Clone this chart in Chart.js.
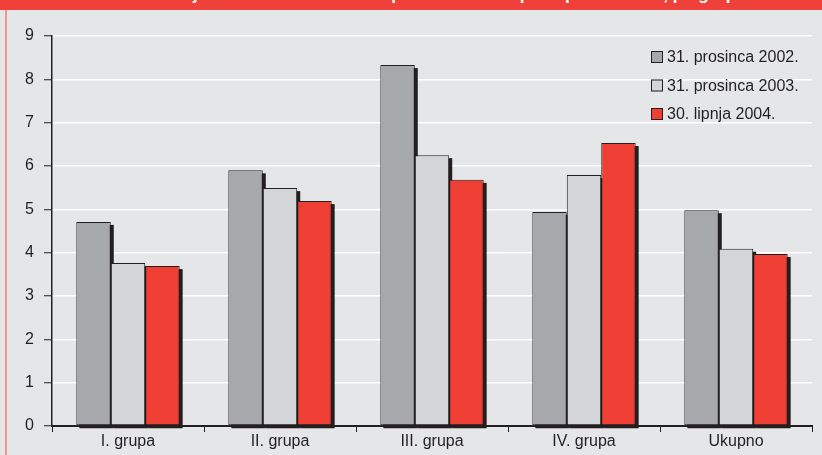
<!DOCTYPE html>
<html>
<head>
<meta charset="utf-8">
<script src="https://cdn.jsdelivr.net/npm/chart.js@4.4.1/dist/chart.umd.min.js"></script>
<style>
  html,body{margin:0;padding:0;background:#e5e6e8;}
  #wrap{position:relative;width:822px;height:455px;overflow:hidden;}
  #banner{position:absolute;left:0;top:0;width:822px;height:10px;background:#f0403a;overflow:hidden;}
  #banner span{position:absolute;left:140px;top:-15px;font:bold 17px "Liberation Sans",Arial,sans-serif;color:#fff;white-space:nowrap;}
  #edge{position:absolute;left:5px;top:10px;width:2px;height:445px;background:#f0968e;}
  canvas{position:absolute;left:0;top:0;}
</style>
</head>
<body>
<div id="wrap">
  <div id="banner"><span>Udio djelomično nadoknadivih plasmana u ukupnim plasmanima, po grupama banaka</span></div>
  <div id="edge"></div>
  <canvas id="myChart" width="822" height="455"></canvas>
</div>
<script>
const labels = ['I. grupa', 'II. grupa', 'III. grupa', 'IV. grupa', 'Ukupno'];
const seriesNames = ['31. prosinca 2002.', '31. prosinca 2003.', '30. lipnja 2004.'];
const dec2002 = [4.71, 5.90, 8.33, 4.94, 4.98];
const dec2003 = [3.76, 5.49, 6.25, 5.79, 4.09];
const jun2004 = [3.69, 5.19, 5.68, 6.53, 3.97];
const yTicks = [0, 1, 2, 3, 4, 5, 6, 7, 8, 9];

const colors = ['#a7a8ab', '#d4d5d7', '#ef3e34'];
const ink = '#231f20';
const fontFam = '"Liberation Sans", Arial, sans-serif';

const data = {
    labels: labels,
    datasets: [dec2002, dec2003, jun2004].map((vals, i) => {
        return {
            label: seriesNames[i],
            data: vals,
            backgroundColor: colors[i],
            borderColor: ink,
            borderWidth: 1,
            borderSkipped: false
        };
    })
};

// black drop shadow behind every bar
const shadowPlugin = {
    id: 'shadow',
    beforeDatasetsDraw: (chart) => {
        const ctx = chart.ctx;
        ctx.save();
        ctx.fillStyle = ink;
        chart.data.datasets.forEach((ds, i) => {
            chart.getDatasetMeta(i).data.forEach((el) => {
                ctx.fillRect(el.x - el.width / 2 + 3, el.y + 3, el.width, el.base - el.y);
            });
        });
        ctx.restore();
    }
};

// legend inside plot area, top right
const legendPlugin = {
    id: 'boxLegend',
    afterDraw: (chart) => {
        const ctx = chart.ctx;
        ctx.save();
        ctx.font = '16px ' + fontFam;
        ctx.textBaseline = 'middle';
        chart.data.datasets.forEach((ds, i) => {
            let y = 51 + i * 28.5;
            ctx.fillStyle = ds.backgroundColor;
            ctx.fillRect(651, y, 12, 12);
            ctx.strokeStyle = ink;
            ctx.lineWidth = 1;
            ctx.strokeRect(651.5, y + 0.5, 11, 11);
            ctx.fillStyle = ink;
            ctx.fillText(ds.label, 667, y + 7);
        });
        ctx.restore();
    }
};

const config = {
    type: 'bar',
    data: data,
    plugins: [shadowPlugin, legendPlugin],
    options: {
        responsive: false,
        animation: false,
        layout: { padding: { top: 36, right: 10, left: 0, bottom: 0 } },
        datasets: { bar: { categoryPercentage: 0.68, barPercentage: 1.0 } },
        plugins: { legend: { display: false }, tooltip: { enabled: false } },
        scales: {
            x: {
                afterFit: (s) => { s.height = 29; },
                grid: { offset: true, drawOnChartArea: false, tickLength: 6, tickColor: ink, tickWidth: 1 },
                border: { color: ink, width: 2 },
                ticks: { color: ink, padding: 0, font: { family: fontFam, size: 16 } }
            },
            y: {
                min: 0,
                max: 9,
                afterFit: (s) => { s.width = 52; },
                afterBuildTicks: (s) => { s.ticks = yTicks.map((v) => ({ value: v })); },
                grid: { color: '#ffffff', lineWidth: 1.5, tickColor: ink, tickLength: 8, tickWidth: 1 },
                border: { color: ink, width: 1.5 },
                ticks: { color: ink, padding: 10, font: { family: fontFam, size: 16 } }
            }
        }
    }
};

var myChart = new Chart(document.getElementById('myChart'), config);
</script>
</body>
</html>
